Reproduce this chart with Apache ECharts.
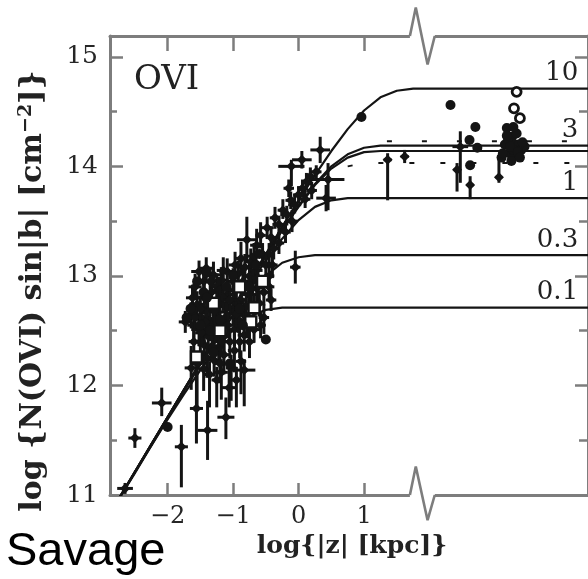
<!DOCTYPE html>
<html>
<head>
<meta charset="utf-8">
<script src="https://cdn.jsdelivr.net/npm/echarts@6/dist/echarts.min.js"></script>
<style>html,body{margin:0;padding:0;background:#fff}#c{width:588px;height:579px}</style>
</head>
<body>
<div id="c"></div>
<script>
// ---- data ----
const logZ      = [-2.75, -2.5, -2.25, -2, -1.75, -1.5, -1.25, -1, -0.75, -0.5, -0.25, 0, 0.25, 0.5, 0.75, 1, 1.25, 1.5, 1.75, 2, 4.42];
const curveH10  = [10.96, 11.21, 11.46, 11.71, 11.96, 12.21, 12.46, 12.71, 12.96, 13.20, 13.45, 13.69, 13.92, 14.14, 14.34, 14.51, 14.63, 14.69, 14.71, 14.71, 14.71];
const curveH3   = [10.96, 11.21, 11.46, 11.71, 11.96, 12.21, 12.46, 12.70, 12.95, 13.19, 13.42, 13.64, 13.84, 14.00, 14.11, 14.17, 14.19, 14.19, 14.19, 14.19, 14.19];
const curveFit  = [10.96, 11.21, 11.46, 11.71, 11.96, 12.21, 12.46, 12.70, 12.95, 13.18, 13.42, 13.63, 13.83, 13.98, 14.08, 14.13, 14.14, 14.14, 14.14, 14.14, 14.14];
const curveH1   = [10.96, 11.21, 11.46, 11.71, 11.96, 12.20, 12.45, 12.69, 12.92, 13.14, 13.34, 13.51, 13.63, 13.69, 13.71, 13.71, 13.71, 13.71, 13.71, 13.71, 13.71];
const curveH03  = [10.96, 11.21, 11.45, 11.70, 11.95, 12.19, 12.42, 12.64, 12.84, 13.00, 13.12, 13.17, 13.19, 13.19, 13.19, 13.19, 13.19, 13.19, 13.19, 13.19, 13.19];
const curveH01  = [10.96, 11.20, 11.45, 11.69, 11.92, 12.14, 12.34, 12.51, 12.63, 12.69, 12.71, 12.71, 12.71, 12.71, 12.71, 12.71, 12.71, 12.71, 12.71, 12.71, 12.71];
const dashLow   = [null, null, null, null, null, null, null, null, null, null, null, null, null, null, 14.00, 14.03, 14.03, 14.03, 14.03, 14.03, 14.03];
const dashHigh  = [null, null, null, null, null, null, null, null, null, null, null, null, null, null, null, 14.21, 14.23, 14.23, 14.23, 14.23, 14.23];
const curveNames = ['10', '3', '', '1', '0.3', '0.1'];

// [log|z|, logN sin|b|, dx, dyLow, dyHigh]
const crossPts = [
  [-2.65, 11.06, 0.12, 0.05, 0.05], [-2.50, 11.52, 0.10, 0.09, 0.09], [-2.09, 11.84, 0.15, 0.12, 0.14],
  [-1.79, 11.44, 0.10, 0.37, 0.20], [-1.64, 12.16, 0.10, 0.20, 0.20], [-1.56, 11.79, 0.10, 0.32, 0.32],
  [-1.39, 11.59, 0.15, 0.27, 0.27], [-1.11, 11.71, 0.13, 0.20, 0.18], [-1.06, 11.98, 0.12, 0.18, 0.19],
  [-0.83, 12.14, 0.17, 0.33, 0.10], [-0.79, 13.33, 0.15, 0.21, 0.21], [-0.05, 13.08, 0.08, 0.15, 0.15],
  [-0.11, 14.00, 0.20, 0.18, 0.06], [0.05, 14.06, 0.15, 0.08, 0.08], [0.33, 14.15, 0.15, 0.12, 0.12],
  [0.45, 13.88, 0.25, 0.28, 0.15], [0.42, 13.71, 0.15, 0.12, 0.12], [1.36, 14.06, 0.06, 0.37, 0.06],
  [1.62, 14.09, 0.06, 0.06, 0.06], [2.47, 14.18, 0.12, 0.33, 0.14], [2.42, 13.97, 0.05, 0.20, 0.06],
  [2.62, 13.83, 0.05, 0.13, 0.08], [3.06, 13.90, 0.05, 0.05, 0.20],
  // dense band near the curves
  [-1.52, 13.04, 0.12, 0.10, 0.10], [-1.41, 13.07, 0.10, 0.12, 0.10], [-1.30, 13.01, 0.12, 0.10, 0.12],
  [-1.18, 12.96, 0.10, 0.12, 0.12], [-1.09, 13.04, 0.12, 0.15, 0.12], [-0.97, 13.10, 0.10, 0.12, 0.12],
  [-0.88, 13.16, 0.10, 0.15, 0.15], [-0.73, 13.13, 0.10, 0.15, 0.12], [-0.64, 13.28, 0.10, 0.12, 0.15],
  [-0.58, 13.37, 0.08, 0.12, 0.12], [-0.48, 13.44, 0.10, 0.10, 0.10], [-0.42, 13.35, 0.08, 0.12, 0.10],
  [-0.36, 13.53, 0.08, 0.10, 0.10], [-0.30, 13.47, 0.10, 0.10, 0.08], [-0.24, 13.60, 0.08, 0.08, 0.10],
  [-0.18, 13.56, 0.10, 0.10, 0.08], [-0.12, 13.69, 0.08, 0.08, 0.08], [-0.06, 13.65, 0.10, 0.08, 0.10],
  [0.00, 13.74, 0.08, 0.08, 0.08], [0.06, 13.80, 0.08, 0.08, 0.08], [0.12, 13.86, 0.08, 0.06, 0.08],
  [0.18, 13.91, 0.08, 0.08, 0.08], [0.27, 13.95, 0.08, 0.06, 0.06],
  [-0.55, 13.20, 0.08, 0.12, 0.10], [-0.45, 13.20, 0.08, 0.10, 0.10], [-0.38, 13.25, 0.08, 0.10, 0.10],
  [-0.30, 13.30, 0.08, 0.10, 0.10], [-0.20, 13.40, 0.08, 0.10, 0.10], [-0.10, 13.50, 0.08, 0.10, 0.10],
  [0.10, 13.70, 0.08, 0.08, 0.08], [0.20, 13.78, 0.08, 0.08, 0.08], [-0.15, 13.80, 0.08, 0.08, 0.08],
  [-0.50, 13.10, 0.08, 0.12, 0.10], [-0.65, 13.05, 0.10, 0.12, 0.12], [-0.75, 13.00, 0.10, 0.12, 0.12],
  [-0.85, 12.95, 0.10, 0.12, 0.12], [-1.00, 12.95, 0.10, 0.12, 0.12], [-1.25, 12.90, 0.10, 0.12, 0.12],
  [-1.45, 12.95, 0.10, 0.12, 0.12], [-0.70, 12.95, 0.08, 0.12, 0.12],
  [-1.35, 12.95, 0.10, 0.12, 0.12], [-1.15, 13.05, 0.10, 0.12, 0.12], [-0.92, 13.02, 0.10, 0.12, 0.12],
  [-0.82, 13.08, 0.10, 0.12, 0.12], [-0.68, 13.18, 0.10, 0.12, 0.12], [-0.40, 13.10, 0.08, 0.12, 0.12],
  // lower cluster
  [-1.73, 12.58, 0.10, 0.10, 0.10], [-1.64, 12.64, 0.10, 0.12, 0.12], [-1.55, 12.74, 0.12, 0.15, 0.12],
  [-1.44, 12.80, 0.10, 0.15, 0.15], [-1.33, 12.85, 0.12, 0.12, 0.15], [-1.21, 12.87, 0.10, 0.15, 0.12],
  [-1.09, 12.83, 0.12, 0.15, 0.15], [-0.98, 12.87, 0.10, 0.12, 0.12], [-0.88, 12.78, 0.10, 0.15, 0.12],
  [-0.76, 12.83, 0.12, 0.12, 0.15], [-0.64, 12.89, 0.10, 0.12, 0.12], [-0.53, 12.85, 0.08, 0.12, 0.10],
  [-0.42, 12.78, 0.08, 0.10, 0.10], [-1.52, 12.51, 0.12, 0.15, 0.15], [-1.36, 12.60, 0.10, 0.15, 0.15],
  [-1.24, 12.67, 0.12, 0.15, 0.15], [-1.12, 12.62, 0.10, 0.15, 0.12], [-1.00, 12.69, 0.12, 0.15, 0.15],
  [-0.83, 12.64, 0.10, 0.15, 0.12], [-0.68, 12.71, 0.10, 0.12, 0.12], [-0.53, 12.62, 0.08, 0.15, 0.12],
  [-1.44, 12.37, 0.10, 0.15, 0.15], [-1.29, 12.42, 0.10, 0.15, 0.15], [-1.14, 12.46, 0.10, 0.18, 0.15],
  [-0.98, 12.51, 0.10, 0.15, 0.15], [-0.83, 12.46, 0.10, 0.15, 0.15], [-0.68, 12.51, 0.10, 0.12, 0.12],
  [-1.29, 12.23, 0.10, 0.15, 0.15], [-1.14, 12.28, 0.10, 0.18, 0.15], [-0.98, 12.32, 0.10, 0.20, 0.15],
  [-1.36, 12.10, 0.08, 0.30, 0.12], [-1.18, 12.12, 0.10, 0.25, 0.12], [-1.03, 12.16, 0.08, 0.30, 0.12],
  [-1.55, 12.20, 0.08, 0.40, 0.10], [-0.88, 12.22, 0.08, 0.30, 0.10],
  [-1.60, 12.55, 0.10, 0.12, 0.12], [-1.48, 12.62, 0.10, 0.12, 0.12], [-1.40, 12.70, 0.10, 0.12, 0.12],
  [-1.30, 12.55, 0.10, 0.12, 0.12], [-1.20, 12.75, 0.10, 0.12, 0.12], [-1.10, 12.72, 0.10, 0.12, 0.12],
  [-0.95, 12.75, 0.10, 0.12, 0.12], [-0.60, 12.75, 0.08, 0.12, 0.12], [-1.62, 12.80, 0.10, 0.12, 0.12],
  [-1.50, 12.40, 0.08, 0.15, 0.12], [-1.38, 12.45, 0.08, 0.15, 0.12], [-1.22, 12.35, 0.08, 0.15, 0.12],
  [-1.05, 12.40, 0.08, 0.15, 0.12], [-0.90, 12.40, 0.08, 0.15, 0.12], [-0.75, 12.40, 0.08, 0.15, 0.12],
  [-1.40, 12.25, 0.08, 0.18, 0.12], [-1.20, 12.20, 0.08, 0.18, 0.12], [-0.92, 12.60, 0.08, 0.12, 0.12],
  [-0.45, 13.00, 0.08, 0.12, 0.12],
  [-1.58, 12.62, 0.10, 0.12, 0.12], [-1.50, 12.70, 0.10, 0.12, 0.12], [-1.42, 12.58, 0.10, 0.12, 0.12],
  [-1.35, 12.75, 0.10, 0.12, 0.12], [-1.28, 12.68, 0.10, 0.12, 0.12], [-1.15, 12.80, 0.10, 0.12, 0.12],
  [-1.05, 12.78, 0.10, 0.12, 0.12], [-0.95, 12.65, 0.10, 0.12, 0.12], [-0.80, 12.72, 0.10, 0.12, 0.12],
  [-0.72, 12.88, 0.10, 0.12, 0.12], [-0.62, 12.98, 0.10, 0.12, 0.12], [-1.48, 12.48, 0.10, 0.12, 0.12],
  [-1.32, 12.35, 0.10, 0.12, 0.12], [-1.18, 12.40, 0.10, 0.12, 0.12], [-1.08, 12.55, 0.10, 0.12, 0.12],
  [-0.78, 12.55, 0.10, 0.12, 0.12], [-0.58, 12.55, 0.08, 0.12, 0.12], [-1.45, 12.15, 0.08, 0.20, 0.12],
  [-1.25, 12.05, 0.08, 0.25, 0.12], [-0.95, 12.05, 0.08, 0.25, 0.12], [-1.60, 12.40, 0.08, 0.15, 0.12],
  [-1.58, 12.90, 0.10, 0.12, 0.12], [-0.45, 12.90, 0.08, 0.12, 0.12]
];
const dotPts = [
  [-2.00, 11.62], [-1.71, 12.62], [-1.62, 12.69], [-1.41, 13.03], [-0.50, 12.42], [0.96, 14.45],
  [-1.55, 12.95], [-1.65, 12.70], [-1.45, 12.85], [-1.00, 13.00], [-0.60, 13.20], [-0.85, 12.55], [-1.20, 12.60],
  [-1.50, 12.55], [-1.35, 12.50], [-1.10, 12.90], [-0.90, 12.70], [-0.75, 12.90], [-1.30, 12.30], [-1.05, 12.20],
  [-1.40, 12.80], [-0.65, 13.10],
  [2.32, 14.56], [2.70, 14.36], [2.62, 14.01], [2.61, 14.24], [2.73, 14.17], [3.10, 14.08],
  [3.18, 14.35], [3.26, 14.27], [3.30, 14.20], [3.36, 14.20], [3.22, 14.12], [3.30, 14.10],
  [3.40, 14.15], [3.25, 14.05], [3.15, 14.20], [3.20, 14.25], [3.33, 14.30], [3.28, 14.15],
  [3.45, 14.18], [3.12, 14.12], [3.23, 14.18], [3.35, 14.13], [3.18, 14.28], [3.28, 14.36],
  [3.42, 14.22], [3.38, 14.08]
];
const openCirclePts = [[3.33, 14.68], [3.29, 14.53], [3.38, 14.44]];
const squarePts = [[-1.56, 12.26], [-0.73, 12.58], [-0.68, 12.71], [-1.20, 12.50], [-0.90, 12.90], [-1.30, 12.75], [-0.55, 12.95]];
const yMajor = [11, 12, 13, 14, 15];
const yMinor = [11.5, 12.5, 13.5, 14.5];
const xMajor = [-2, -1, 0, 1];
// axis break zigzag (data coords)
const breakTopX = [1.70, 1.79, 1.97, 2.08];
const breakTopY = [15.19, 15.45, 14.93, 15.19];
const breakBotX = [1.70, 1.79, 1.97, 2.08];
const breakBotY = [11.00, 11.26, 10.77, 11.00];

// ---- chart ----
const GRAY = '#7d7d7d';
const INK = '#141414';
const SERIF = 'DejaVu Serif';
const chart = echarts.init(document.getElementById('c'), null, {renderer: 'canvas'});

function zipXY(xs, ys) { return xs.map((x, i) => [x, ys[i]]); }

function errorItem(params, api) {
  const x = api.value(0), y = api.value(1), dx = api.value(2), dl = api.value(3), dh = api.value(4);
  const c = api.coord([x, y]);
  const l = api.coord([x - dx, y]), r = api.coord([x + dx, y]);
  const b = api.coord([x, y - dl]), t = api.coord([x, y + dh]);
  const st = {stroke: INK, lineWidth: 3};
  return {
    type: 'group',
    children: [
      {type: 'line', shape: {x1: l[0], y1: c[1], x2: r[0], y2: c[1]}, style: st},
      {type: 'line', shape: {x1: c[0], y1: b[1], x2: c[0], y2: t[1]}, style: st},
      {type: 'polygon', shape: {points: [[c[0], c[1] - 5], [c[0] + 5, c[1]], [c[0], c[1] + 5], [c[0] - 5, c[1]]]}, style: {fill: INK}}
    ]
  };
}

const curves = [curveH10, curveH3, curveFit, curveH1, curveH03, curveH01];
const curveSeries = curves.map((ys, i) => ({
  type: 'line', data: zipXY(logZ, ys), showSymbol: false, symbol: 'none',
  smooth: false, z: 3,
  lineStyle: {color: INK, width: 2.2},
  markPoint: curveNames[i] ? {
    symbol: 'circle', symbolSize: 0, silent: true,
    data: [{coord: [4.27, ys[ys.length - 1]], label: {show: true, formatter: curveNames[i], position: 'top', align: 'right', distance: 2, fontFamily: SERIF, fontSize: 26, color: '#222'}}]
  } : undefined
}));

const option = {
  animation: false,
  backgroundColor: '#fff',
  grid: {left: 110, right: -4, top: 36, bottom: 84, containLabel: false},
  xAxis: [
    {type: 'value', min: -2.88, max: 4.42, position: 'bottom',
     axisLine: {show: true, onZero: false, lineStyle: {color: GRAY, width: 3}},
     axisTick: {show: true, inside: true, length: 12, customValues: xMajor, lineStyle: {color: GRAY, width: 2.5}},
     axisLabel: {show: true, customValues: xMajor, margin: 10, fontFamily: SERIF, fontSize: 24, color: '#262626',
                 formatter: v => String(v).replace('-', '\u2212')},
     splitLine: {show: false}},
    {type: 'value', min: -2.88, max: 4.42, position: 'top',
     axisLine: {show: true, onZero: false, lineStyle: {color: GRAY, width: 3}},
     axisTick: {show: true, inside: true, length: 15, customValues: xMajor, lineStyle: {color: GRAY, width: 2.5}},
     axisLabel: {show: false}, splitLine: {show: false}}
  ],
  yAxis: [
    {type: 'value', min: 11, max: 15.19, position: 'left',
     axisLine: {show: true, onZero: false, lineStyle: {color: GRAY, width: 3}},
     axisTick: {show: true, inside: true, length: 13, customValues: yMajor, lineStyle: {color: GRAY, width: 2.5}},
     axisLabel: {show: true, customValues: yMajor, margin: 12, fontFamily: SERIF, fontSize: 25, color: '#262626'},
     splitLine: {show: false}},
    {type: 'value', min: 11, max: 15.19, position: 'left',
     axisLine: {show: false, onZero: false},
     axisTick: {show: true, inside: true, length: 7, customValues: yMinor, lineStyle: {color: GRAY, width: 2.5}},
     axisLabel: {show: false}, splitLine: {show: false}},
    {type: 'value', min: 11, max: 15.19, position: 'right',
     axisLine: {show: true, onZero: false, lineStyle: {color: GRAY, width: 3}},
     axisTick: {show: true, inside: true, length: 13, customValues: yMajor, lineStyle: {color: GRAY, width: 2.5}},
     axisLabel: {show: false}, splitLine: {show: false}},
    {type: 'value', min: 11, max: 15.19, position: 'right',
     axisLine: {show: false, onZero: false},
     axisTick: {show: true, inside: true, length: 9, customValues: yMinor, lineStyle: {color: GRAY, width: 2.5}},
     axisLabel: {show: false}, splitLine: {show: false}}
  ],
  series: [
    ...curveSeries,
    {type: 'line', data: zipXY(logZ, dashLow), showSymbol: false, symbol: 'none', z: 3,
     lineStyle: {color: INK, width: 2, type: [5, 26]}},
    {type: 'line', data: zipXY(logZ, dashHigh), showSymbol: false, symbol: 'none', z: 3,
     lineStyle: {color: INK, width: 2, type: [5, 30], dashOffset: 12}},
    {type: 'custom', renderItem: errorItem, data: crossPts, z: 4, encode: {x: 0, y: 1}},
    {type: 'scatter', data: squarePts, symbol: 'rect', symbolSize: 11, z: 5,
     itemStyle: {color: '#fff', borderColor: INK, borderWidth: 2.4, opacity: 1}},
    {type: 'scatter', data: dotPts, symbol: 'circle', symbolSize: 10, z: 5, itemStyle: {color: INK, opacity: 1}},
    {type: 'scatter', data: openCirclePts, symbol: 'circle', symbolSize: 9, z: 5,
     itemStyle: {color: '#fff', borderColor: INK, borderWidth: 2.8, opacity: 1}},
    // axis break: white gap then zigzag
    {type: 'line', data: zipXY([breakTopX[0], breakTopX[3]], [breakTopY[0], breakTopY[3]]), clip: false, symbol: 'none', z: 6,
     lineStyle: {color: '#fff', width: 6}},
    {type: 'line', data: zipXY([breakBotX[0], breakBotX[3]], [breakBotY[0], breakBotY[3]]), clip: false, symbol: 'none', z: 6,
     lineStyle: {color: '#fff', width: 6}},
    {type: 'line', data: zipXY(breakTopX, breakTopY), clip: false, symbol: 'none', z: 7,
     lineStyle: {color: GRAY, width: 2.6}},
    {type: 'line', data: zipXY(breakBotX, breakBotY), clip: false, symbol: 'none', z: 7,
     lineStyle: {color: GRAY, width: 2.6}}
  ],
  graphic: [
    {type: 'text', x: 134, y: 80, style: {text: 'OVI', font: '34px "DejaVu Serif"', fill: '#222', verticalAlign: 'middle', align: 'left'}},
    {type: 'text', x: 33, y: 291, rotation: Math.PI / 2,
     style: {text: 'log {N(OVI) sin|b| [cm{sup|\u22122}]}', fontFamily: SERIF, fontWeight: 'bold', fontSize: 30, fill: '#222',
             align: 'center', verticalAlign: 'middle',
             rich: {sup: {fontFamily: SERIF, fontWeight: 'bold', fontSize: 19, verticalAlign: 'top', padding: [0, 0, 14, 0], fill: '#222'}}}},
    {type: 'text', x: 352, y: 546, style: {text: 'log{|z| [kpc]}', fontFamily: SERIF, fontWeight: 'bold', fontSize: 25, fill: '#222', align: 'center', verticalAlign: 'middle'}},
    {type: 'text', x: 6, y: 552, style: {text: 'Savage', fontFamily: 'Liberation Sans', fontSize: 47, fill: '#000', align: 'left', verticalAlign: 'middle'}}
  ]
};
chart.setOption(option);
</script>
</body>
</html>
